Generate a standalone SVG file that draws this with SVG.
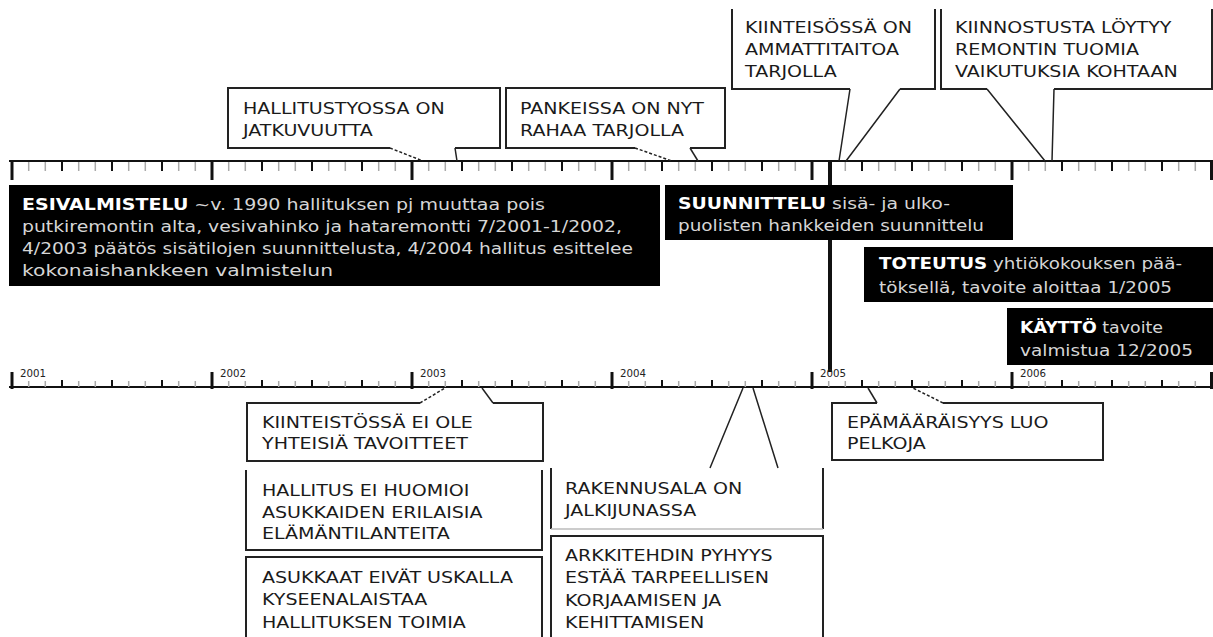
<svg xmlns="http://www.w3.org/2000/svg" width="1213" height="637" viewBox="0 0 1213 637">
<style>
.axis{stroke:#111;stroke-width:2;fill:none}
.minor{stroke:#aaa;stroke-width:1.5}
.quarter{stroke:#111;stroke-width:2}
.major{stroke:#111;stroke-width:3}
.box{fill:none;stroke:#222;stroke-width:2}
.wedge{fill:none;stroke:#222;stroke-width:1.5}
.dash{stroke-dasharray:3 2}
.dark{fill:#000}
.ct{font-family:"DejaVu Sans",Verdana,sans-serif;font-size:16px;fill:#1a1a1a}
.bt{font-family:"DejaVu Sans",Verdana,sans-serif;font-size:16px;fill:#d6d6d6}
.bt .h{font-weight:bold;fill:#fff}
.yr{font-family:"DejaVu Sans",sans-serif;font-size:10px;fill:#222}
</style>
<defs>
<g id="yearTop">
<path class="minor" d="M16.7 162v9M33.3 162v9M66.7 162v9M83.3 162v9M116.7 162v9M133.3 162v9M166.7 162v9M183.3 162v9"/>
<path class="quarter" d="M50 162v9M100 162v9M150 162v9"/>
<path class="major" d="M0 161v19"/>
</g>
<g id="yearBottom">
<path class="minor" d="M16.7 381v6M33.3 381v6M66.7 381v6M83.3 381v6M116.7 381v6M133.3 381v6M166.7 381v6M183.3 381v6"/>
<path class="quarter" d="M50 380v7M100 380v7M150 380v7"/>
<path class="major" d="M0 372v17"/>
</g>
</defs>
<rect width="1213" height="637" fill="#fff"/>

<g id="connectors">
<line class="axis" x1="9" y1="161" x2="1213" y2="161"/>
<use href="#yearTop" x="12"/>
<use href="#yearTop" x="212"/>
<use href="#yearTop" x="412"/>
<use href="#yearTop" x="612"/>
<use href="#yearTop" x="812"/>
<use href="#yearTop" x="1012"/>
<path class="major" d="M1211.5 161v19"/>
<line class="axis" x1="9" y1="387" x2="1213" y2="387"/>
<use href="#yearBottom" x="12"/>
<use href="#yearBottom" x="212"/>
<use href="#yearBottom" x="412"/>
<use href="#yearBottom" x="612"/>
<use href="#yearBottom" x="812"/>
<use href="#yearBottom" x="1012"/>
<path class="major" d="M1211.5 372v17"/>
<line x1="830" y1="161" x2="830" y2="372" stroke="#111" stroke-width="4"/>
<path class="wedge dash" d="M390 148L423 161"/>
<path class="wedge" d="M455 148L457 161"/>
<path class="wedge dash" d="M635 148L672 161"/>
<path class="wedge" d="M690 148L698 161"/>
<path class="wedge" d="M850 89L839 161M900 89L846 161"/>
<path class="wedge" d="M987 89L1045 161M1054 89L1052 161"/>
<path class="wedge dash" d="M420 403L445 388"/>
<path class="wedge" d="M493 403L482 388"/>
<path class="wedge" d="M710 468L743 388M778 468L753 388"/>
<path class="wedge" d="M877 403L868 388"/>
<path class="wedge dash" d="M943 403L913 388"/>
</g>

<g id="years">
<text class="yr" x="20" y="377" textLength="26" lengthAdjust="spacingAndGlyphs">2001</text>
<text class="yr" x="220" y="377" textLength="26" lengthAdjust="spacingAndGlyphs">2002</text>
<text class="yr" x="420" y="377" textLength="26" lengthAdjust="spacingAndGlyphs">2003</text>
<text class="yr" x="620" y="377" textLength="26" lengthAdjust="spacingAndGlyphs">2004</text>
<text class="yr" x="820" y="377" textLength="26" lengthAdjust="spacingAndGlyphs">2005</text>
<text class="yr" x="1020" y="377" textLength="26" lengthAdjust="spacingAndGlyphs">2006</text>
</g>

<g id="esivalmistelu">
<rect class="dark" x="9" y="185" width="651" height="101"/>
<text class="bt" x="22" y="210" textLength="523" lengthAdjust="spacingAndGlyphs"><tspan class="h">ESIVALMISTELU</tspan> ~v. 1990 hallituksen pj muuttaa pois</text>
<text class="bt" x="22" y="232" textLength="600" lengthAdjust="spacingAndGlyphs">putkiremontin alta, vesivahinko ja hataremontti 7/2001-1/2002,</text>
<text class="bt" x="22" y="254" textLength="611" lengthAdjust="spacingAndGlyphs">4/2003 päätös sisätilojen suunnittelusta, 4/2004 hallitus esittelee</text>
<text class="bt" x="22" y="276" textLength="311" lengthAdjust="spacingAndGlyphs">kokonaishankkeen valmistelun</text>
</g>

<g id="suunnittelu">
<rect class="dark" x="665" y="185" width="348" height="55"/>
<text class="bt" x="678" y="209" textLength="272" lengthAdjust="spacingAndGlyphs"><tspan class="h">SUUNNITTELU</tspan> sisä- ja ulko-</text>
<text class="bt" x="678" y="231" textLength="306" lengthAdjust="spacingAndGlyphs">puolisten hankkeiden suunnittelu</text>
</g>

<g id="toteutus">
<rect class="dark" x="864" y="247" width="349" height="55"/>
<text class="bt" x="879" y="269" textLength="303" lengthAdjust="spacingAndGlyphs"><tspan class="h">TOTEUTUS</tspan> yhtiökokouksen pää-</text>
<text class="bt" x="879" y="293" textLength="293" lengthAdjust="spacingAndGlyphs">töksellä, tavoite aloittaa 1/2005</text>
</g>

<g id="kaytto">
<rect class="dark" x="1007" y="308" width="206" height="57"/>
<text class="bt" x="1020" y="333" textLength="143" lengthAdjust="spacingAndGlyphs"><tspan class="h">KÄYTTÖ</tspan> tavoite</text>
<text class="bt" x="1020" y="356" textLength="173" lengthAdjust="spacingAndGlyphs">valmistua 12/2005</text>
</g>

<g id="hallitustyossa">
<path class="box" d="M390 148H228V88H500V148H455"/>
<text class="ct" transform="translate(243 114) scale(1.19 1)"><tspan x="0" y="0">HALLITUSTYOSSA ON</tspan><tspan x="0" y="22">JATKUVUUTTA</tspan></text>
</g>

<g id="pankeissa">
<path class="box" d="M635 148H506V88H725V148H690"/>
<text class="ct" transform="translate(520 114) scale(1.19 1)"><tspan x="0" y="0">PANKEISSA ON NYT</tspan><tspan x="0" y="22">RAHAA TARJOLLA</tspan></text>
</g>

<g id="ammattitaitoa">
<path class="box" d="M850 89H732V9M935 9V89H900"/>
<text class="ct" transform="translate(745 33) scale(1.19 1)"><tspan x="0" y="0">KIINTEISÖSSÄ ON</tspan><tspan x="0" y="22">AMMATTITAITOA</tspan><tspan x="0" y="44">TARJOLLA</tspan></text>
</g>

<g id="kiinnostusta">
<path class="box" d="M987 89H941V9M1212 9V89H1054"/>
<text class="ct" transform="translate(955 33) scale(1.19 1)"><tspan x="0" y="0">KIINNOSTUSTA LÖYTYY</tspan><tspan x="0" y="22">REMONTIN TUOMIA</tspan><tspan x="0" y="44">VAIKUTUKSIA KOHTAAN</tspan></text>
</g>

<g id="tavoitteet">
<path class="box" d="M420 403H247V461H543V403H493"/>
<text class="ct" transform="translate(262 428) scale(1.19 1)"><tspan x="0" y="0">KIINTEISTÖSSÄ EI OLE</tspan><tspan x="0" y="21">YHTEISIÄ TAVOITTEET</tspan></text>
</g>

<g id="elamantilanteet">
<path class="box" d="M246 470V550H542V470"/>
<text class="ct" transform="translate(262 496) scale(1.19 1)"><tspan x="0" y="0">HALLITUS EI HUOMIOI</tspan><tspan x="0" y="22">ASUKKAIDEN ERILAISIA</tspan><tspan x="0" y="43">ELÄMÄNTILANTEITA</tspan></text>
</g>

<g id="asukkaat">
<path class="box" d="M246 640V557H542V640"/>
<text class="ct" transform="translate(262 583) scale(1.19 1)"><tspan x="0" y="0">ASUKKAAT EIVÄT USKALLA</tspan><tspan x="0" y="22">KYSEENALAISTAA</tspan><tspan x="0" y="45">HALLITUKSEN TOIMIA</tspan></text>
</g>

<g id="rakennusala">
<path class="box" d="M551 468V529M823 468V529"/>
<path d="M551 529H823" stroke="#bbb" stroke-width="1.5"/>
<text class="ct" transform="translate(565 494) scale(1.19 1)"><tspan x="0" y="0">RAKENNUSALA ON</tspan><tspan x="0" y="22">JALKIJUNASSA</tspan></text>
</g>

<g id="arkkitehdin">
<path class="box" d="M551 640V536H823V640"/>
<text class="ct" transform="translate(565 561) scale(1.19 1)"><tspan x="0" y="0">ARKKITEHDIN PYHYYS</tspan><tspan x="0" y="22">ESTÄÄ TARPEELLISEN</tspan><tspan x="0" y="45">KORJAAMISEN JA</tspan><tspan x="0" y="67">KEHITTAMISEN</tspan></text>
</g>

<g id="epamaaraisyys">
<path class="box" d="M877 403H832V460H1103V403H943"/>
<text class="ct" transform="translate(847 428) scale(1.19 1)"><tspan x="0" y="0">EPÄMÄÄRÄISYYS LUO</tspan><tspan x="0" y="21">PELKOJA</tspan></text>
</g>
</svg>
